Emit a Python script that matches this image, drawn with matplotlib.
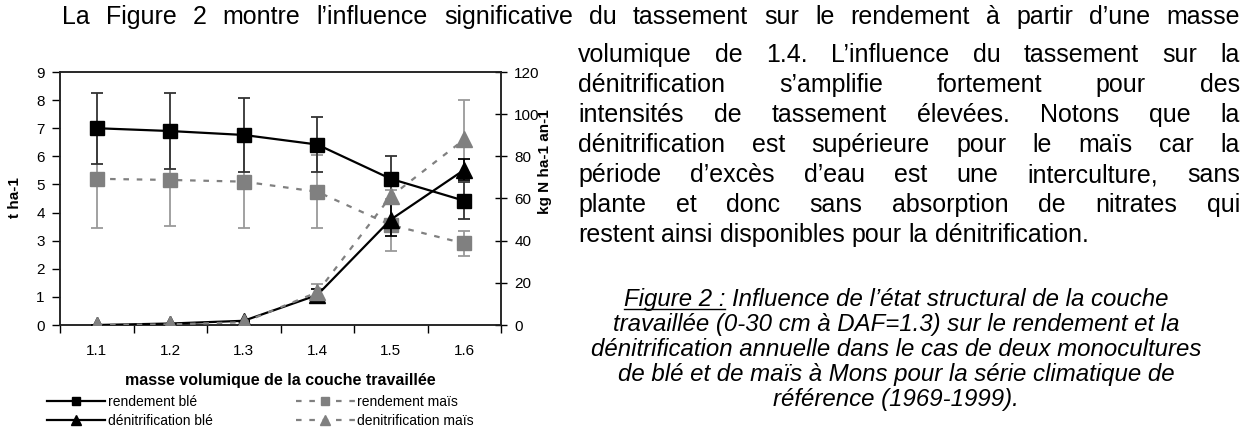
import matplotlib
matplotlib.use('Agg')
import matplotlib.pyplot as plt
from matplotlib.lines import Line2D
import numpy as np

plt.rcParams['font.family'] = ['Liberation Sans', 'DejaVu Sans']

# masse volumique de la couche travaillee
densite = ['1.1', '1.2', '1.3', '1.4', '1.5', '1.6']

# rendements (t ha-1)
rdt_ble = [7.0, 6.9, 6.76, 6.42, 5.2, 4.42]
rdt_ble_err = [1.26, 1.34, 1.3, 0.97, 0.8, 0.65]
rdt_mais = [5.2, 5.16, 5.1, 4.74, 3.56, 2.9]
rdt_mais_err = [1.74, 1.63, 1.64, 1.3, 0.93, 0.46]

# denitrification (kg N ha-1 an-1)
denit_ble = [0.0, 0.7, 2.0, 14.2, 50.0, 73.6]
denit_ble_err = [0, 0, 0, 3, 8, 5]
denit_mais = [0.0, 0.3, 1.3, 15.5, 61.0, 88.0]
denit_mais_err = [0, 0, 0, 4, 3, 18.5]

W, H = 1248, 436
GRAY = '#808080'
GRAY_ERR = '#9a9a9a'


def fx(px):
    return px / W


def fy(py):
    return 1 - py / H


fig = plt.figure(figsize=(W / 100, H / 100), dpi=100)
ax = fig.add_axes([fx(60), fy(325), fx(501) - fx(60), fy(72) - fy(325)])
ax2 = ax.twinx()

x = np.arange(1, len(densite) + 1)

# rendement
ax.errorbar(x, rdt_mais, yerr=rdt_mais_err, fmt='none', ecolor=GRAY_ERR,
            elinewidth=1.3, capsize=4, capthick=1.3, zorder=2)
ax.plot(x, rdt_mais, color=GRAY, lw=1.6, ls=(0, (2.5, 3.5)), marker='s',
        ms=10, mfc=GRAY, mec=GRAY, zorder=3)
ax.errorbar(x, rdt_ble, yerr=rdt_ble_err, fmt='none', ecolor='#333333',
            elinewidth=1.3, capsize=4, capthick=1.3, zorder=4)
ax.plot(x, rdt_ble, color='black', lw=1.6, marker='s', ms=10,
        mfc='black', mec='black', zorder=5)

# denitrification
ax2.errorbar(x, denit_mais, yerr=denit_mais_err, fmt='none', ecolor=GRAY_ERR,
             elinewidth=1.3, capsize=4, capthick=1.3, zorder=2)
ax2.errorbar(x, denit_ble, yerr=denit_ble_err, fmt='none', ecolor='black',
             elinewidth=1.3, capsize=4, capthick=1.3, zorder=3)
ax2.plot(x, denit_ble, color='black', lw=1.6, marker='^', ms=11,
         mfc='black', mec='black', zorder=4)
ax2.plot(x, denit_mais, color=GRAY, lw=1.6, ls=(0, (2.5, 3.5)), marker='^',
         ms=11, mfc=GRAY, mec=GRAY, zorder=5)

# axes
ax.set_xlim(0.5, len(densite) + 0.5)
ax.set_ylim(0, 9)
ax2.set_ylim(0, 120)
ax.set_yticks(range(0, 10))
ax2.set_yticks(range(0, 121, 20))
ax.set_xticks(np.arange(0.5, len(densite) + 1, 1.0))
ax.set_xticklabels([])
ax.set_xticks(x, minor=True)
ax.set_xticklabels(densite, minor=True)
ax.tick_params(axis='x', which='major', direction='out', length=6, width=1)
ax.tick_params(axis='x', which='minor', length=0, pad=14, labelsize=11)
ax.tick_params(axis='y', direction='out', length=6, width=1, pad=5, labelsize=11)
ax2.tick_params(axis='y', direction='inout', length=9, width=1, pad=5, labelsize=11)
for a in (ax, ax2):
    for sp in a.spines.values():
        sp.set_color('#222222')
        sp.set_linewidth(1.1)

fig.text(fx(15), fy(198), 't ha-1', rotation=90, ha='center', va='center',
         fontsize=11, fontweight='bold')
fig.text(fx(545), fy(162), 'kg N ha-1 an-1', rotation=90, ha='center',
         va='center', fontsize=11, fontweight='bold')
fig.text(fx(280), fy(380), 'masse volumique de la couche travaillée',
         ha='center', va='center', fontsize=11.5, fontweight='bold')

handles = [
    Line2D([], [], color='black', lw=1.6, marker='s', ms=6),
    Line2D([], [], color='black', lw=1.6, marker='^', ms=7),
    Line2D([], [], color=GRAY, lw=1.6, ls=(0, (2.5, 3.5)), marker='s', ms=6),
    Line2D([], [], color=GRAY, lw=1.6, ls=(0, (2.5, 3.5)), marker='^', ms=7),
]
labels = ['rendement blé', 'dénitrification blé', 'rendement maïs',
          'denitrification maïs']
fig.legend(handles, labels, ncol=2, loc='upper left',
           bbox_to_anchor=(fx(47), fy(395)), frameon=False, fontsize=10,
           borderpad=0, borderaxespad=0, handlelength=4.2, handletextpad=0.2,
           columnspacing=6.0, labelspacing=0.35, numpoints=1)

# paragraph text, justified word by word
renderer = fig.canvas.get_renderer()


def text_width(s, **kw):
    t = fig.text(0, 0, s, **kw)
    w = t.get_window_extent(renderer).width
    t.remove()
    return w


def justify_line(s, x0, x1, y, last=False, **kw):
    words = s.split()
    widths = [text_width(w, **kw) for w in words]
    if last or len(words) < 2:
        gap = text_width('a a', **kw) - text_width('aa', **kw)
    else:
        gap = (x1 - x0 - sum(widths)) / (len(words) - 1)
    xpos = x0
    for w, wd in zip(words, widths):
        fig.text(fx(xpos), fy(y), w, ha='left', va='baseline', **kw)
        xpos += wd + gap


body = dict(fontsize=18, color='black')
justify_line('La Figure 2 montre l’influence significative du tassement sur '
             'le rendement à partir d’une masse', 62, 1240, 24, **body)
lignes = [
    'volumique de 1.4. L’influence du tassement sur la',
    'dénitrification s’amplifie fortement pour des',
    'intensités de tassement élevées. Notons que la',
    'dénitrification est supérieure pour le maïs car la',
    'période d’excès d’eau est une interculture, sans',
    'plante et donc sans absorption de nitrates qui',
    'restent ainsi disponibles pour la dénitrification.',
]
for i, s in enumerate(lignes):
    justify_line(s, 578, 1240, 62 + 30 * i, last=(i == len(lignes) - 1), **body)

# figure caption
cap = dict(fontsize=17.3, style='italic', color='black')
legende = [
    'Figure 2 : Influence de l’état structural de la couche',
    'travaillée (0-30 cm à DAF=1.3) sur le rendement et la',
    'dénitrification annuelle dans le cas de deux monocultures',
    'de blé et de maïs à Mons pour la série climatique de',
    'référence (1969-1999).',
]
xc = 896
for i, s in enumerate(legende):
    y = 306 + 25 * i
    fig.text(fx(xc), fy(y), s, ha='center', va='baseline', **cap)
    if i == 0:
        w_all = text_width(s, **cap)
        w_fig = text_width('Figure 2 :', **cap)
        x0 = xc - w_all / 2
        fig.add_artist(Line2D([fx(x0), fx(x0 + w_fig)], [fy(y + 3), fy(y + 3)],
                              color='black', lw=1.0))

fig.savefig('out.png', dpi=100)
